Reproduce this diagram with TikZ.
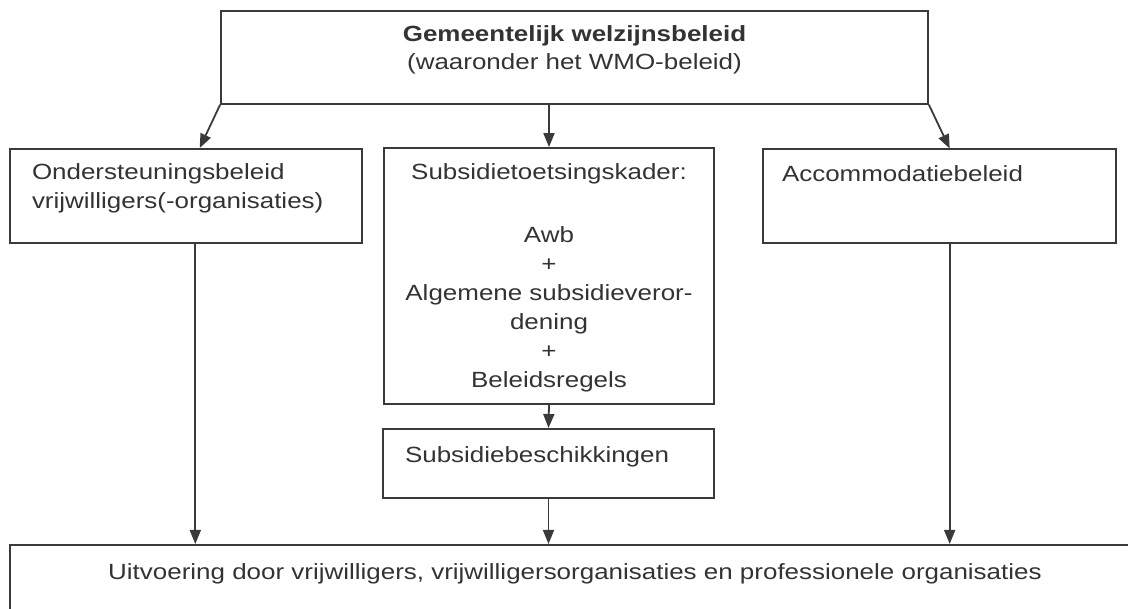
\documentclass[tikz,border=0pt]{standalone}
\usepackage{fontspec}
\setmainfont{Liberation Sans}[FakeStretch=1.18]
\usetikzlibrary{arrows.meta}
\definecolor{linegray}{HTML}{3A3A3A}
\definecolor{textgray}{HTML}{333333}

\begin{document}
\begin{tikzpicture}
[every node/.style={inner sep=0pt},
 box/.style={rectangle, draw=linegray, line width=1.8pt, text=textgray, font=\fontsize{22}{28.5}\selectfont},
 pijl/.style={line width=1.8pt, draw=linegray, -{Triangle[length=14pt,width=11pt]}}]
\useasboundingbox (0pt,0pt) rectangle (1128pt,-609pt);
\node (beleid) [box, anchor=north, minimum width=707pt, inner ysep=15pt, text depth=19pt, align=center, font=\fontsize{22}{28}\selectfont] at (574.5pt, -10pt) {\textbf{Gemeentelijk welzijnsbeleid}\\(waaronder het WMO-beleid)};
\node (ondersteuning) [box, anchor=north, text width=308pt, inner xsep=22pt, inner ysep=15pt, text depth=48pt, align=left] at (186pt, -148pt) {Ondersteuningsbeleid\\vrijwilligers(-organisaties)};
\node (kader) [box, minimum width=330pt, minimum height=256pt, text depth=-14pt, align=center, font=\fontsize{22}{29}\selectfont] at (549pt, -276pt) {Subsidietoetsingskader:\\[34pt]Awb\\+\\Algemene subsidieveror-\\dening\\+\\Beleidsregels};
\node (accommodatie) [box, anchor=north, text width=315pt, inner xsep=19pt, inner ysep=16.5pt, text depth=45pt, align=left] at (939.5pt, -148.5pt) {Accommodatiebeleid};
\node (beschikking) [box, anchor=north, text width=287pt, inner xsep=22pt, inner ysep=18pt, text depth=17pt, align=left] at (548.5pt, -428pt) {Subsidiebeschikkingen};
\node (uitvoering) [box, anchor=north, minimum width=1130pt, inner ysep=19pt, text depth=50pt] at (575pt, -544pt) {Uitvoering door vrijwilligers, vrijwilligersorganisaties en professionele organisaties};
\draw [pijl] (beleid.south west) -- (ondersteuning.74);
\draw [pijl] (beleid.south -| kader.north) -- (kader.north);
\draw [pijl] (beleid.south east) -- (accommodatie.78);
\draw [pijl] (kader.south) -- (beschikking.north);
\draw [pijl] (ondersteuning.-79) -- (ondersteuning.-79 |- uitvoering.north);
\draw [pijl] (beschikking.south) -- (uitvoering.north -| beschikking.south);
\draw [pijl] (accommodatie.-78) -- (accommodatie.-78 |- uitvoering.north);
\end{tikzpicture}
\end{document}
